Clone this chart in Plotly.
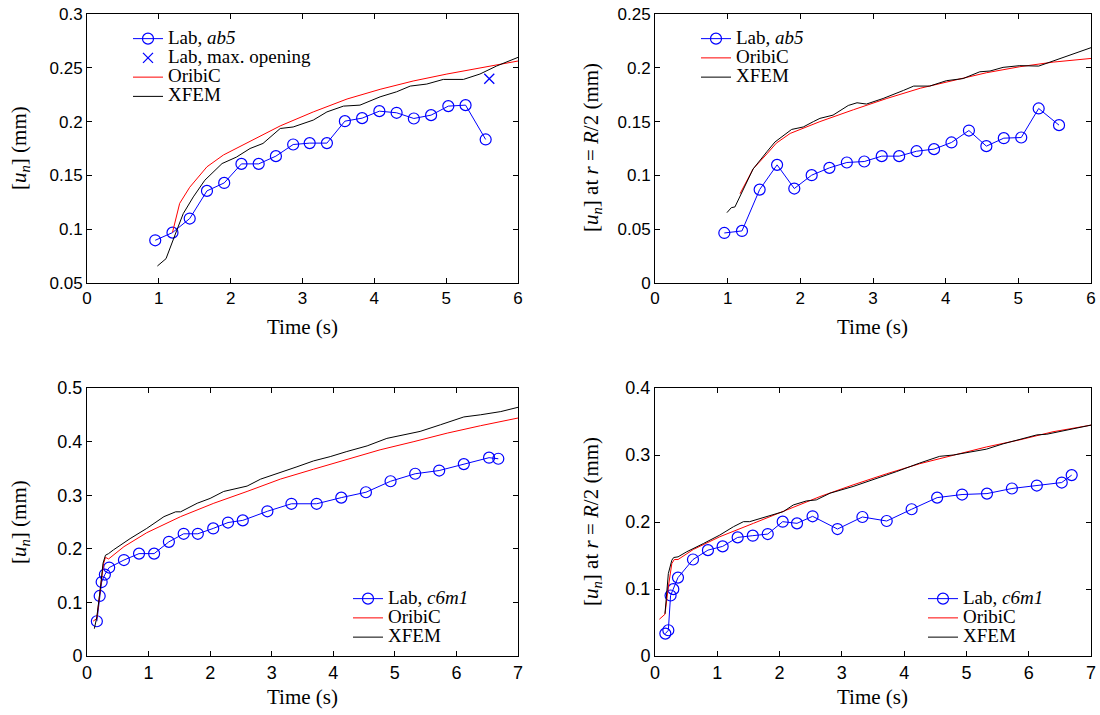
import plotly.graph_objects as go

W, H = 1100, 715

# ---------- Panel 1: ab5, [u_n] ----------
p1_lab_t = [0.95, 1.19, 1.43, 1.67, 1.91, 2.15, 2.39, 2.63, 2.87, 3.10, 3.34, 3.59, 3.83, 4.07, 4.31, 4.55, 4.79, 5.03, 5.27, 5.55]
p1_lab_v = [0.0897, 0.0968, 0.1099, 0.1356, 0.143, 0.1607, 0.1607, 0.1679, 0.1787, 0.180, 0.180, 0.2004, 0.2032, 0.2097, 0.2082, 0.2029, 0.206, 0.2144, 0.2153, 0.1834]
p1_max_t = [5.60]
p1_max_v = [0.2398]
p1_orb_t = [1.19, 1.29, 1.43, 1.67, 1.90, 2.22, 2.69, 3.15, 3.62, 4.08, 4.54, 5.01, 5.47, 6.0]
p1_orb_v = [0.097, 0.124, 0.139, 0.158, 0.169, 0.180, 0.196, 0.209, 0.221, 0.230, 0.2377, 0.2442, 0.250, 0.2563]
p1_xf_t = [0.98, 1.10, 1.25, 1.34, 1.48, 1.64, 1.88, 2.08, 2.27, 2.45, 2.69, 2.87, 3.15, 3.34, 3.57, 3.80, 4.08, 4.31, 4.50, 4.73, 4.96, 5.24, 5.47, 5.70, 6.0]
p1_xf_v = [0.0658, 0.0726, 0.099, 0.1145, 0.130, 0.1455, 0.161, 0.167, 0.175, 0.1797, 0.1936, 0.195, 0.2014, 0.209, 0.2144, 0.2153, 0.223, 0.2277, 0.233, 0.2349, 0.2392, 0.2392, 0.2442, 0.2516, 0.2597]

# ---------- Panel 2: ab5, [u_n] at r=R/2 ----------
p2_lab_t = [0.954, 1.197, 1.44, 1.68, 1.917, 2.156, 2.40, 2.64, 2.88, 3.12, 3.36, 3.60, 3.84, 4.08, 4.32, 4.56, 4.80, 5.04, 5.28, 5.56]
p2_lab_v = [0.0465, 0.0484, 0.0868, 0.1098, 0.0878, 0.1002, 0.107, 0.112, 0.1129, 0.1179, 0.1179, 0.1225, 0.1244, 0.1306, 0.1417, 0.1272, 0.1346, 0.1352, 0.1622, 0.1467]
p2_orb_t = [1.17, 1.35, 1.54, 1.67, 1.86, 2.27, 2.73, 3.19, 3.65, 4.11, 4.56, 5.02, 5.48, 6.0]
p2_orb_v = [0.083, 0.106, 0.120, 0.130, 0.139, 0.150, 0.161, 0.1715, 0.181, 0.1886, 0.1954, 0.201, 0.2053, 0.2087]
p2_xf_t = [0.99, 1.05, 1.10, 1.24, 1.35, 1.54, 1.65, 1.88, 2.04, 2.18, 2.27, 2.45, 2.66, 2.78, 2.91, 3.14, 3.28, 3.42, 3.56, 3.78, 4.01, 4.24, 4.47, 4.61, 4.79, 5.02, 5.28, 5.48, 5.76, 6.0]
p2_xf_v = [0.0654, 0.070, 0.0707, 0.0909, 0.106, 0.122, 0.131, 0.1427, 0.145, 0.150, 0.153, 0.156, 0.165, 0.1675, 0.1663, 0.1715, 0.1756, 0.179, 0.183, 0.183, 0.188, 0.190, 0.1963, 0.197, 0.2004, 0.202, 0.2016, 0.2063, 0.2128, 0.2187]

# ---------- Panel 3: c6m1, [u_n] ----------
p3_lab_t = [0.16, 0.206, 0.238, 0.29, 0.36, 0.60, 0.845, 1.09, 1.33, 1.57, 1.80, 2.05, 2.29, 2.53, 2.93, 3.32, 3.73, 4.13, 4.53, 4.93, 5.33, 5.72, 6.12, 6.53, 6.68]
p3_lab_v = [0.0648, 0.112, 0.138, 0.152, 0.165, 0.179, 0.191, 0.191, 0.213, 0.228, 0.228, 0.238, 0.249, 0.253, 0.270, 0.284, 0.284, 0.2955, 0.3055, 0.326, 0.340, 0.346, 0.358, 0.370, 0.368]
p3_orb_t = [0.10, 0.16, 0.22, 0.27, 0.30, 0.35, 0.60, 0.97, 1.52, 2.06, 2.60, 3.14, 3.68, 4.22, 4.76, 5.31, 5.85, 6.39, 7.0]
p3_orb_v = [0.065, 0.070, 0.129, 0.173, 0.184, 0.181, 0.204, 0.230, 0.260, 0.285, 0.307, 0.330, 0.3485, 0.367, 0.3847, 0.400, 0.4158, 0.4296, 0.444]
p3_xf_t = [0.12, 0.16, 0.22, 0.26, 0.30, 0.35, 0.43, 0.70, 0.97, 1.25, 1.44, 1.52, 1.79, 2.00, 2.22, 2.60, 2.82, 3.14, 3.41, 3.68, 3.95, 4.22, 4.55, 4.87, 5.09, 5.41, 5.74, 6.12, 6.39, 6.72, 7.0]
p3_xf_v = [0.051, 0.073, 0.129, 0.173, 0.188, 0.191, 0.198, 0.219, 0.238, 0.260, 0.269, 0.269, 0.285, 0.294, 0.307, 0.317, 0.330, 0.342, 0.353, 0.364, 0.372, 0.3815, 0.392, 0.406, 0.411, 0.419, 0.4314, 0.446, 0.450, 0.456, 0.464]

# ---------- Panel 4: c6m1, [u_n] at r=R/2 ----------
p4_lab_t = [0.166, 0.214, 0.25, 0.294, 0.369, 0.61, 0.85, 1.086, 1.327, 1.57, 1.81, 2.05, 2.28, 2.53, 2.93, 3.33, 3.72, 4.12, 4.53, 4.93, 5.33, 5.73, 6.13, 6.53, 6.69]
p4_lab_v = [0.0334, 0.0384, 0.0903, 0.0998, 0.117, 0.144, 0.158, 0.1636, 0.177, 0.1796, 0.182, 0.2005, 0.198, 0.2085, 0.1895, 0.2075, 0.2015, 0.219, 0.2364, 0.241, 0.2424, 0.250, 0.2544, 0.2589, 0.270]
p4_orb_t = [0.07, 0.16, 0.214, 0.27, 0.31, 0.37, 0.615, 1.04, 1.58, 2.11, 2.65, 3.18, 3.72, 4.25, 4.79, 5.32, 5.86, 6.39, 7.0]
p4_orb_v = [0.0549, 0.0623, 0.103, 0.138, 0.144, 0.144, 0.159, 0.178, 0.198, 0.218, 0.238, 0.2554, 0.272, 0.287, 0.300, 0.312, 0.3227, 0.3347, 0.3446]
p4_xf_t = [0.16, 0.214, 0.27, 0.30, 0.37, 0.51, 0.78, 1.04, 1.26, 1.42, 1.52, 1.85, 2.06, 2.22, 2.43, 2.59, 2.81, 3.18, 3.50, 3.88, 4.25, 4.57, 4.79, 5.06, 5.32, 5.59, 5.86, 6.13, 6.29, 6.66, 7.0]
p4_xf_v = [0.063, 0.123, 0.143, 0.147, 0.148, 0.1556, 0.168, 0.1805, 0.193, 0.2005, 0.2005, 0.209, 0.2155, 0.2254, 0.2314, 0.233, 0.243, 0.253, 0.263, 0.2753, 0.288, 0.298, 0.300, 0.305, 0.3087, 0.3167, 0.3237, 0.330, 0.331, 0.3377, 0.3446]

BLUE = "#0000ff"
RED = "#ff0000"
BLACK = "#000000"
SERIF = "Liberation Serif"
SANS = "Liberation Sans"
NARROW = "Liberation Sans Narrow, Liberation Sans"


def big(s):
    return '<span style="font-size:19px">' + s + '</span>'


fig = go.Figure()


def add_lab(t, v, name, xa, ya, leg):
    fig.add_trace(go.Scatter(x=t, y=v, mode="lines+markers", name=big(name),
                             line=dict(color=BLUE, width=1),
                             marker=dict(symbol="circle-open", size=11, color=BLUE, line=dict(width=1.2)),
                             xaxis=xa, yaxis=ya, legend=leg))


def add_line(t, v, name, color, xa, ya, leg):
    fig.add_trace(go.Scatter(x=t, y=v, mode="lines", name=big(name),
                             line=dict(color=color, width=1),
                             xaxis=xa, yaxis=ya, legend=leg))


# panel 1
add_lab(p1_lab_t, p1_lab_v, "Lab, <i>ab5</i>", "x", "y", "legend")
fig.add_trace(go.Scatter(x=p1_max_t, y=p1_max_v, mode="markers", name=big("Lab, max. opening"),
                         marker=dict(symbol="x-thin-open", size=10, color=BLUE, line=dict(width=1.3, color=BLUE)),
                         xaxis="x", yaxis="y", legend="legend"))
add_line(p1_orb_t, p1_orb_v, "OribiC", RED, "x", "y", "legend")
add_line(p1_xf_t, p1_xf_v, "XFEM", BLACK, "x", "y", "legend")
# panel 2
add_lab(p2_lab_t, p2_lab_v, "Lab, <i>ab5</i>", "x2", "y2", "legend2")
add_line(p2_orb_t, p2_orb_v, "OribiC", RED, "x2", "y2", "legend2")
add_line(p2_xf_t, p2_xf_v, "XFEM", BLACK, "x2", "y2", "legend2")
# panel 3
add_lab(p3_lab_t, p3_lab_v, "Lab, <i>c6m1</i>", "x3", "y3", "legend3")
add_line(p3_orb_t, p3_orb_v, "OribiC", RED, "x3", "y3", "legend3")
add_line(p3_xf_t, p3_xf_v, "XFEM", BLACK, "x3", "y3", "legend3")
# panel 4
add_lab(p4_lab_t, p4_lab_v, "Lab, <i>c6m1</i>", "x4", "y4", "legend4")
add_line(p4_orb_t, p4_orb_v, "OribiC", RED, "x4", "y4", "legend4")
add_line(p4_xf_t, p4_xf_v, "XFEM", BLACK, "x4", "y4", "legend4")


def px_x(p):
    return p / W


def px_y(p):
    return 1 - p / H


left_dom = [px_x(87), px_x(518)]
right_dom = [px_x(655), px_x(1091)]
top_dom = [px_y(283), px_y(14)]
bot_dom = [px_y(656), px_y(388)]


def axis(dom, rng, dt, anchor, fam, size):
    return dict(showgrid=False, zeroline=False, showline=True, linecolor="black", linewidth=1,
                mirror="allticks", ticks="inside", ticklen=5, tickcolor="black", tickwidth=1,
                tickfont=dict(family=fam, size=size, color="black"),
                domain=dom, range=rng, dtick=dt, tick0=0, anchor=anchor)


fig.update_layout(
    width=W, height=H, margin=dict(l=0, r=0, t=0, b=0, autoexpand=False),
    paper_bgcolor="white", plot_bgcolor="white", showlegend=True,
    xaxis=axis(left_dom, [0, 6], 1, "y", SANS, 17),
    yaxis=axis(top_dom, [0.05, 0.3], 0.05, "x", SANS, 17),
    xaxis2=axis(right_dom, [0, 6], 1, "y2", SANS, 17),
    yaxis2=axis(top_dom, [0, 0.25], 0.05, "x2", SANS, 17),
    xaxis3=axis(left_dom, [0, 7], 1, "y3", NARROW, 18),
    yaxis3=axis(bot_dom, [0, 0.5], 0.1, "x3", NARROW, 18),
    xaxis4=axis(right_dom, [0, 7], 1, "y4", NARROW, 18),
    yaxis4=axis(bot_dom, [0, 0.4], 0.1, "x4", NARROW, 18),
)

leg_common = dict(bgcolor="rgba(0,0,0,0)", borderwidth=0, font=dict(family=SERIF, size=12.5, color="black"),
                  xanchor="left", yanchor="top", tracegroupgap=0, itemwidth=30)
fig.update_layout(
    legend=dict(leg_common, x=px_x(128), y=px_y(24)),
    legend2=dict(leg_common, x=px_x(696), y=px_y(24)),
    legend3=dict(leg_common, x=px_x(348), y=px_y(584)),
    legend4=dict(leg_common, x=px_x(923), y=px_y(584)),
)

title_font = dict(family=SERIF, size=21, color="black")
ann = []


def add_ann(text, x, y, angle=0):
    ann.append(dict(text=text, x=px_x(x), y=px_y(y), xref="paper", yref="paper", showarrow=False,
                    textangle=angle, font=title_font, xanchor="center", yanchor="middle"))


add_ann("Time (s)", 302, 327)
add_ann("Time (s)", 873, 327)
add_ann("Time (s)", 302, 697)
add_ann("Time (s)", 873, 697)
add_ann("[<i>u<sub>n</sub></i>] (mm)", 20, 148, -90)
add_ann("[<i>u<sub>n</sub></i>] at <i>r</i> = <i>R</i>/2 (mm)", 592, 148, -90)
add_ann("[<i>u<sub>n</sub></i>] (mm)", 20, 522, -90)
add_ann("[<i>u<sub>n</sub></i>] at <i>r</i> = <i>R</i>/2 (mm)", 592, 522, -90)
fig.update_layout(annotations=ann)

fig.write_html("out.html")
